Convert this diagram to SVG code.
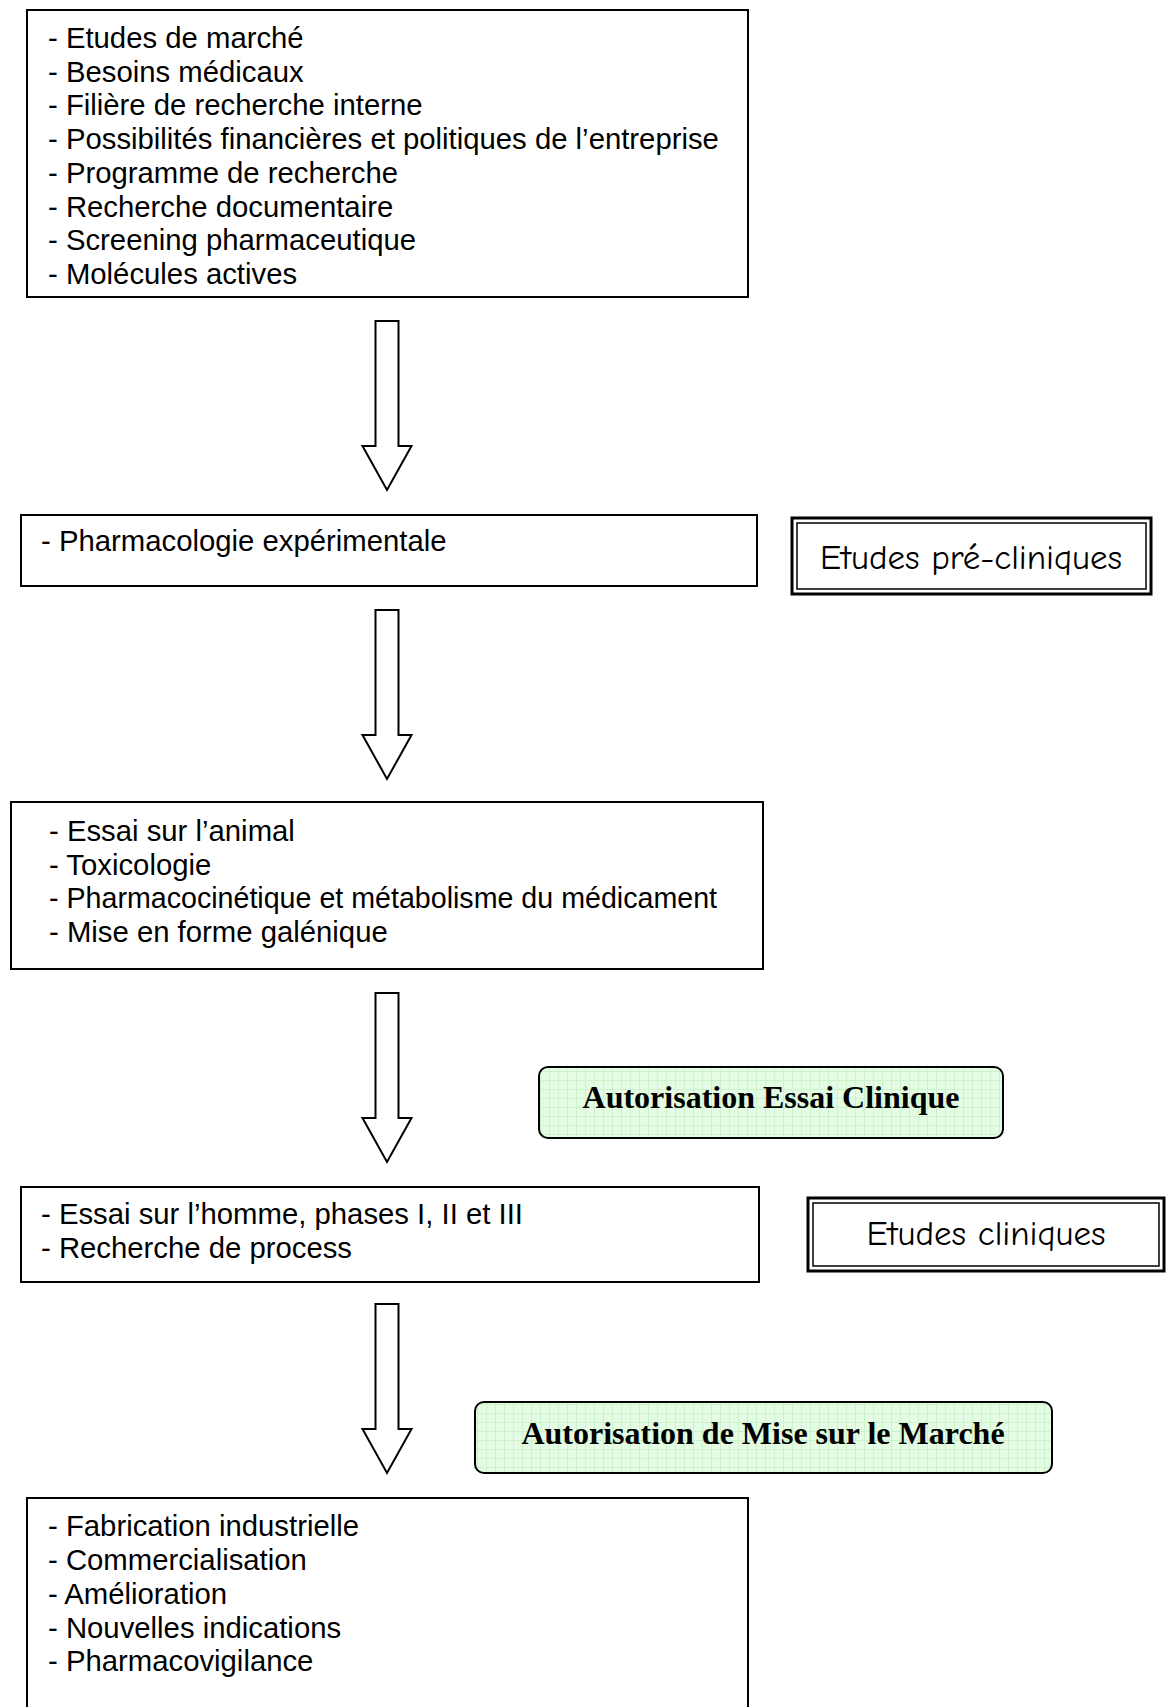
<svg xmlns="http://www.w3.org/2000/svg" width="1166" height="1707" viewBox="0 0 1166 1707">
<style>
.box{fill:#fff;stroke:#000;stroke-width:2}
.t{font-family:"Liberation Sans",Arial,sans-serif;font-size:29.3px;fill:#000}
.c{font-family:"Comic Sans MS","Comic Neue","Noto Sans",sans-serif;font-size:35px;fill:#000;text-anchor:middle}
.g{fill:url(#grid);stroke:#000;stroke-width:2}
.b{font-family:"Liberation Serif","Times New Roman",serif;font-weight:bold;font-size:32px;fill:#000;text-anchor:middle}
.arr{fill:#fff;stroke:#000;stroke-width:2;stroke-linejoin:miter}
.o{fill:#fff;stroke:#000;stroke-width:3}
.i{fill:none;stroke:#000;stroke-width:1.5}
</style>
<defs>
<pattern id="grid" width="9" height="9" patternUnits="userSpaceOnUse">
<rect width="9" height="9" fill="#e4fbe4"/>
<path d="M0 0.5H9M0.5 0V9" stroke="#cdf3cd" stroke-width="1"/>
</pattern>
</defs>
<rect width="1166" height="1707" fill="#fff"/>
<g id="connectors">
<path class="arr" d="M375.5 321H398.5V446H411.5L387 490L362.5 446H375.5Z"/>
<path class="arr" d="M375.5 610H398.5V735H411.5L387 779L362.5 735H375.5Z"/>
<path class="arr" d="M375.5 993H398.5V1118H411.5L387 1162L362.5 1118H375.5Z"/>
<path class="arr" d="M375.5 1304H398.5V1429H411.5L387 1473L362.5 1429H375.5Z"/>
</g>
<g id="node1">
<rect class="box" x="27" y="10" width="721" height="287"/>
<text class="t" x="48" y="48">- Etudes de marché</text>
<text class="t" x="48" y="82">- Besoins médicaux</text>
<text class="t" x="48" y="115">- Filière de recherche interne</text>
<text class="t" x="48" y="149">- Possibilités financières et politiques de l’entreprise</text>
<text class="t" x="48" y="183">- Programme de recherche</text>
<text class="t" x="48" y="217">- Recherche documentaire</text>
<text class="t" x="48" y="250">- Screening pharmaceutique</text>
<text class="t" x="48" y="284">- Molécules actives</text>
</g>
<g id="node2">
<rect class="box" x="21" y="515" width="736" height="71"/>
<text class="t" x="41" y="551">- Pharmacologie expérimentale</text>
</g>
<g id="label-preclinique">
<rect class="o" x="792" y="518" width="359" height="76"/>
<rect class="i" x="797" y="523" width="349" height="66"/>
<text class="c" x="971" y="569">Etudes pré-cliniques</text>
</g>
<g id="node3">
<rect class="box" x="11" y="802" width="752" height="167"/>
<text class="t" x="49" y="841">- Essai sur l’animal</text>
<text class="t" x="49" y="875">- Toxicologie</text>
<text class="t" x="49" y="908" textLength="668" lengthAdjust="spacingAndGlyphs">- Pharmacocinétique et métabolisme du médicament</text>
<text class="t" x="49" y="942">- Mise en forme galénique</text>
</g>
<g id="auth-essai">
<rect class="g" x="539" y="1067" width="464" height="71" rx="9"/>
<text class="b" x="771" y="1108">Autorisation Essai Clinique</text>
</g>
<g id="node4">
<rect class="box" x="21" y="1187" width="738" height="95"/>
<text class="t" x="41" y="1224">- Essai sur l’homme, phases I, II et III</text>
<text class="t" x="41" y="1258">- Recherche de process</text>
</g>
<g id="label-clinique">
<rect class="o" x="808" y="1198" width="356" height="73"/>
<rect class="i" x="813" y="1203" width="346" height="63"/>
<text class="c" x="986" y="1245">Etudes cliniques</text>
</g>
<g id="auth-amm">
<rect class="g" x="475" y="1402" width="577" height="71" rx="9"/>
<text class="b" x="763" y="1444">Autorisation de Mise sur le Marché</text>
</g>
<g id="node5">
<rect class="box" x="27" y="1498" width="721" height="240"/>
<text class="t" x="48" y="1536">- Fabrication industrielle</text>
<text class="t" x="48" y="1570">- Commercialisation</text>
<text class="t" x="48" y="1604">- Amélioration</text>
<text class="t" x="48" y="1638">- Nouvelles indications</text>
<text class="t" x="48" y="1671">- Pharmacovigilance</text>
</g>
</svg>
